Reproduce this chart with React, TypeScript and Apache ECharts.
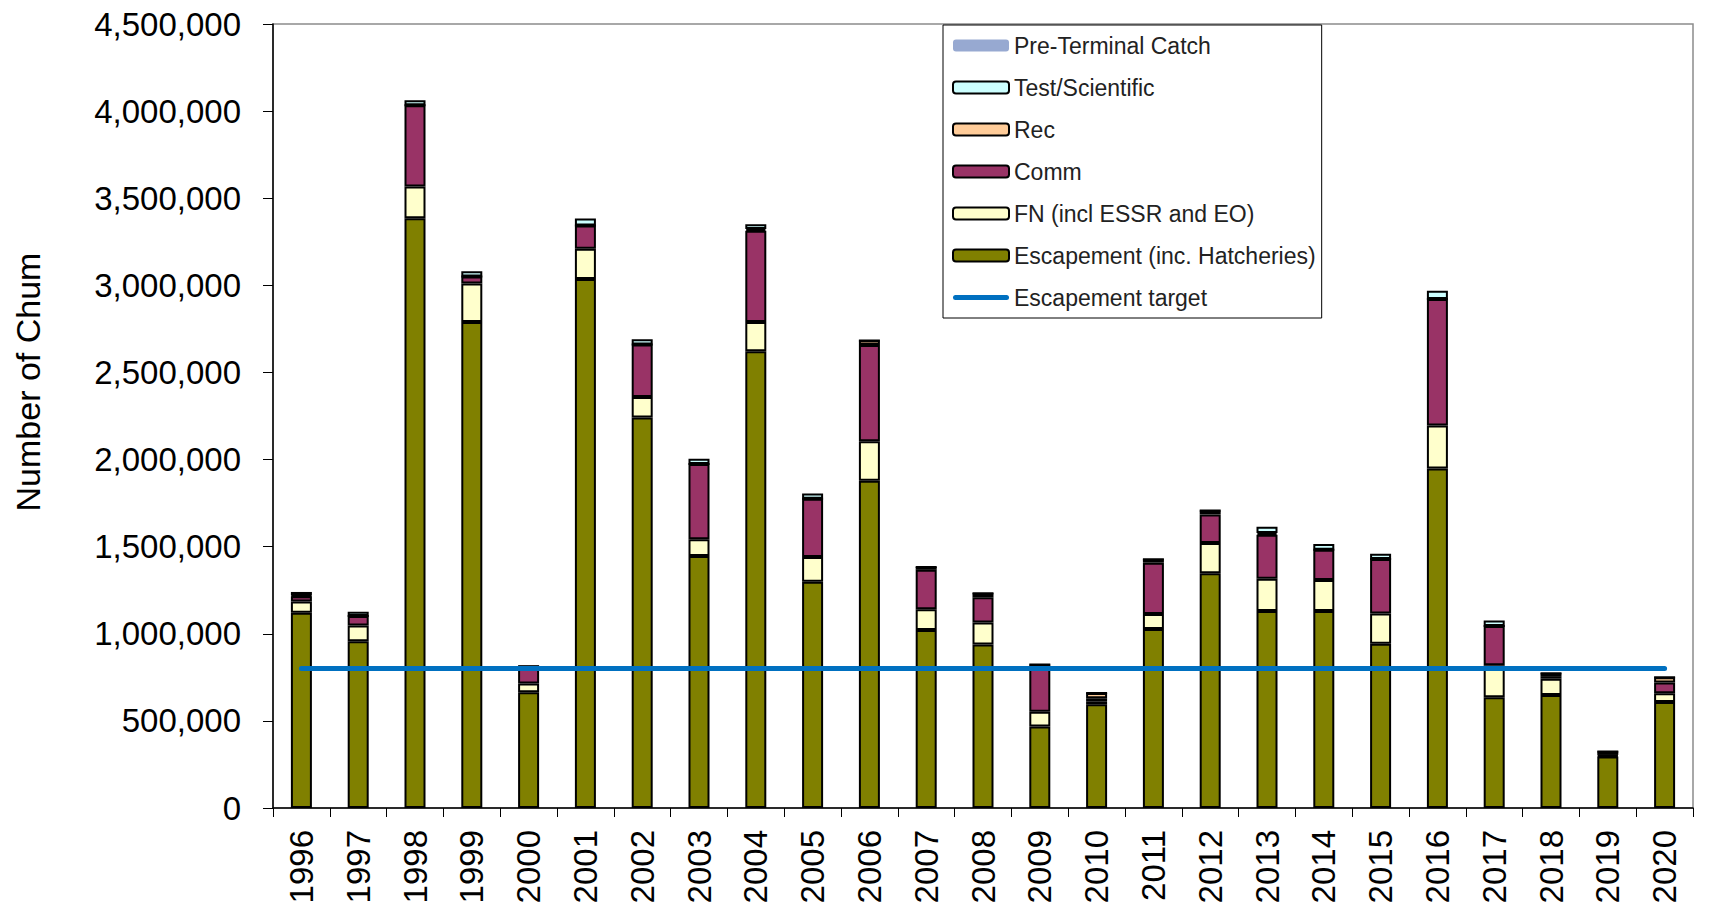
import React, { useEffect, useRef } from "react";
import * as echarts from "echarts";

const years = [
  "1996", "1997", "1998", "1999", "2000", "2001", "2002", "2003", "2004", "2005",
  "2006", "2007", "2008", "2009", "2010", "2011", "2012", "2013", "2014", "2015",
  "2016", "2017", "2018", "2019", "2020",
];

const escapement = [
  1120000, 957000, 3385000, 2790000, 665000, 3037000, 2241000, 1446000, 2621000, 1298000,
  1879000, 1021000, 938000, 468000, 595000, 1028000, 1348000, 1131000, 1131000, 943000,
  1948000, 635000, 649000, 295000, 608000,
];
const fn = [
  65000, 90000, 182000, 220000, 50000, 173000, 118000, 96000, 169000, 143000,
  226000, 120000, 127000, 85000, 15000, 86000, 173000, 185000, 177000, 173000,
  248000, 184000, 93000, 5000, 50000,
];
const comm = [
  30000, 55000, 466000, 41000, 90000, 134000, 302000, 433000, 523000, 334000,
  553000, 226000, 145000, 254000, 20000, 294000, 164000, 252000, 175000, 313000,
  726000, 226000, 15000, 5000, 62000,
];
const rec = [
  5000, 0, 0, 0, 0, 0, 0, 0, 10000, 0,
  25000, 16000, 23000, 16000, 30000, 20000, 22000, 10000, 0, 0,
  0, 0, 16000, 20000, 31000,
];
const test = [
  20000, 25000, 30000, 30000, 15000, 40000, 30000, 30000, 27000, 30000,
  0, 0, 0, 0, 0, 0, 0, 37000, 32000, 30000,
  47000, 31000, 0, 0, 0,
];
const preTerminal = [
  0, 0, 0, 0, 0, 0, 0, 0, 0, 0,
  0, 0, 0, 0, 0, 0, 0, 0, 0, 0,
  0, 0, 0, 0, 0,
];
const escapementTarget = years.map(() => 800000);

const yTicks = { min: 0, max: 4500000, interval: 500000 };

const FONT = "'Liberation Sans', Arial, sans-serif";

export default function App() {
  const ref = useRef<HTMLDivElement>(null);

  useEffect(() => {
    if (!ref.current) return;
    const chart = echarts.init(ref.current, undefined, { renderer: "svg" });

    const barSeries = (name: string, data: number[], color: string, border = true) => ({
      name,
      type: "bar",
      stack: "total",
      data,
      barWidth: 21,
      itemStyle: {
        color,
        borderColor: "#000",
        borderWidth: border ? 2 : 0,
      },
      emphasis: { disabled: true },
    });

    chart.setOption({
      animation: false,
      backgroundColor: "#fff",
      textStyle: { fontFamily: FONT },
      grid: {
        left: 273,
        top: 24,
        right: 16,
        bottom: 102,
        show: true,
        borderColor: "#8c8c8c",
        borderWidth: 1.5,
        backgroundColor: "transparent",
      },
      legend: {
        orient: "vertical",
        left: 943,
        top: 25,
        padding: [9, 6, 9, 9],
        itemWidth: 56,
        itemHeight: 12,
        itemGap: 19,
        backgroundColor: "#fff",
        borderColor: "#000",
        borderWidth: 1,
        textStyle: { fontSize: 23, color: "#222", fontFamily: FONT },
        data: [
          { name: "Pre-Terminal Catch" },
          { name: "Test/Scientific" },
          { name: "Rec" },
          { name: "Comm" },
          { name: "FN (incl ESSR and EO)" },
          { name: "Escapement (inc. Hatcheries)" },
          {
            name: "Escapement target",
            icon: "path://M2.5,0 L53.5,0 A2.5,2.5 0 0 1 53.5,5 L2.5,5 A2.5,2.5 0 0 1 2.5,0 Z",
            itemStyle: { color: "#0070C0", borderWidth: 0 },
          },
        ],
      },
      xAxis: {
        type: "category",
        data: years,
        boundaryGap: true,
        axisLine: { lineStyle: { color: "#000", width: 1.5 } },
        axisTick: { show: true, length: 9, alignWithLabel: false, lineStyle: { color: "#000" } },
        axisLabel: {
          rotate: 90,
          margin: 22,
          fontSize: 33,
          color: "#000",
          fontFamily: FONT,
          interval: 0,
        },
      },
      yAxis: {
        type: "value",
        min: yTicks.min,
        max: yTicks.max,
        interval: yTicks.interval,
        splitLine: { show: false },
        axisLine: { show: true, lineStyle: { color: "#000", width: 1.5 } },
        axisTick: { show: true, length: 10, inside: false, lineStyle: { color: "#000" } },
        axisLabel: {
          margin: 32,
          fontSize: 33,
          color: "#000",
          fontFamily: FONT,
          formatter: (v: number) => v.toLocaleString("en-US"),
        },
      },
      graphic: [
        {
          type: "text",
          x: 28,
          y: 382,
          rotation: Math.PI / 2,
          style: {
            text: "Number of Chum",
            fontSize: 34,
            fontFamily: FONT,
            fill: "#000",
            align: "center",
            verticalAlign: "middle",
          },
        },
      ],
      series: [
        barSeries("Escapement (inc. Hatcheries)", escapement, "#808000"),
        barSeries("FN (incl ESSR and EO)", fn, "#FFFFCC"),
        barSeries("Comm", comm, "#993366"),
        barSeries("Rec", rec, "#FFCC99"),
        barSeries("Test/Scientific", test, "#CCFFFF"),
        barSeries("Pre-Terminal Catch", preTerminal, "#97A9D1", false),
        {
          name: "Escapement target",
          type: "line",
          data: escapementTarget,
          symbol: "none",
          z: 5,
          lineStyle: { color: "#0070C0", width: 5, cap: "round" },
          itemStyle: { color: "#0070C0" },
          emphasis: { disabled: true },
        },
      ],
    });

    return () => chart.dispose();
  }, []);

  return (
    <div
      ref={ref}
      style={{ position: "absolute", left: 0, top: 0, width: 1709, height: 910 }}
    />
  );
}
